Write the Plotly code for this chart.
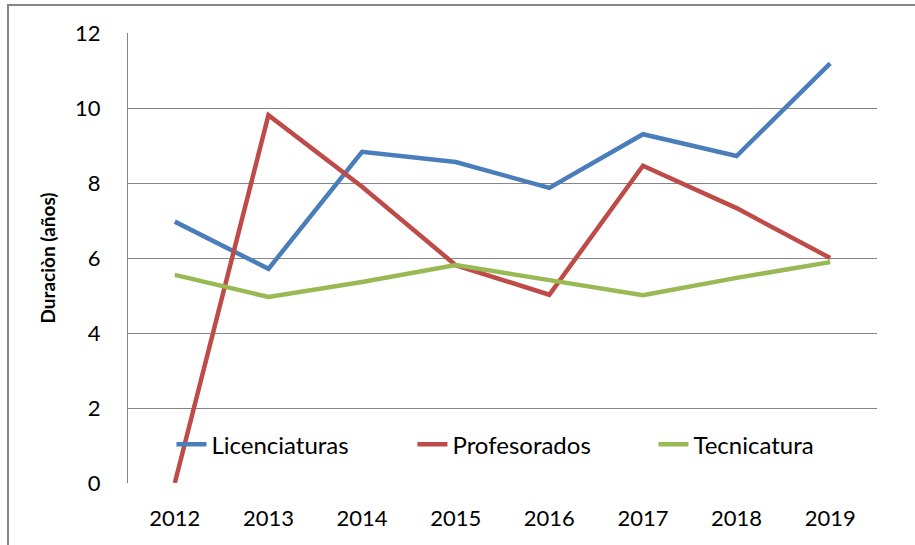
import plotly.graph_objects as go

years = ["2012", "2013", "2014", "2015", "2016", "2017", "2018", "2019"]
licenciaturas = [6.97, 5.71, 8.83, 8.56, 7.87, 9.30, 8.72, 11.19]
profesorados = [0.0, 9.81, 7.90, 5.81, 5.02, 8.46, 7.33, 6.0]
tecnicatura = [5.55, 4.96, 5.36, 5.81, 5.41, 5.01, 5.47, 5.89]

names = ["Licenciaturas", "Profesorados", "Tecnicatura"]
colors = ["#4A7EBB", "#BE4B48", "#98B954"]
FONT = "Lato"

fig = go.Figure()
for name, vals, col in zip(names, [licenciaturas, profesorados, tecnicatura], colors):
    fig.add_trace(go.Scatter(x=years, y=vals, name=name, mode="lines",
                             line=dict(color=col, width=4.5)))

fig.update_layout(
    width=915, height=545,
    margin=dict(l=128, r=38, t=33, b=62),
    paper_bgcolor="white", plot_bgcolor="white",
    font=dict(family=FONT, size=22, color="black"),
    showlegend=True,
    legend=dict(orientation="h", x=0.058, y=0.085, xanchor="left", yanchor="middle",
                bgcolor="rgba(0,0,0,0)", entrywidth=196, entrywidthmode="pixels",
                font=dict(family=FONT, size=24), traceorder="normal"),
    xaxis=dict(showgrid=False, zeroline=False, showline=False, ticks="",
               range=[-0.5, 7.5], tickfont=dict(size=22), ticklabelstandoff=20,
               fixedrange=True),
    yaxis=dict(range=[0, 12], dtick=2, showgrid=True, gridcolor="#868686", gridwidth=1.3,
               zeroline=False, showline=True, linecolor="#868686", linewidth=1.3,
               ticks="", tickfont=dict(size=22), ticklabelstandoff=22, fixedrange=True,
               title=dict(text="<b>Duraciòn (años)</b>", font=dict(size=19), standoff=14)),
)

fig.add_shape(type="rect", xref="paper", yref="paper",
              x0=(8 - 128) / 749, x1=1.2, y0=-0.3, y1=1 + (33 - 5) / 450,
              line=dict(color="#868686", width=2), fillcolor="rgba(0,0,0,0)", layer="below")

fig.write_html("out.html", config={"displayModeBar": False},
               post_script="document.body.style.margin='0';")
